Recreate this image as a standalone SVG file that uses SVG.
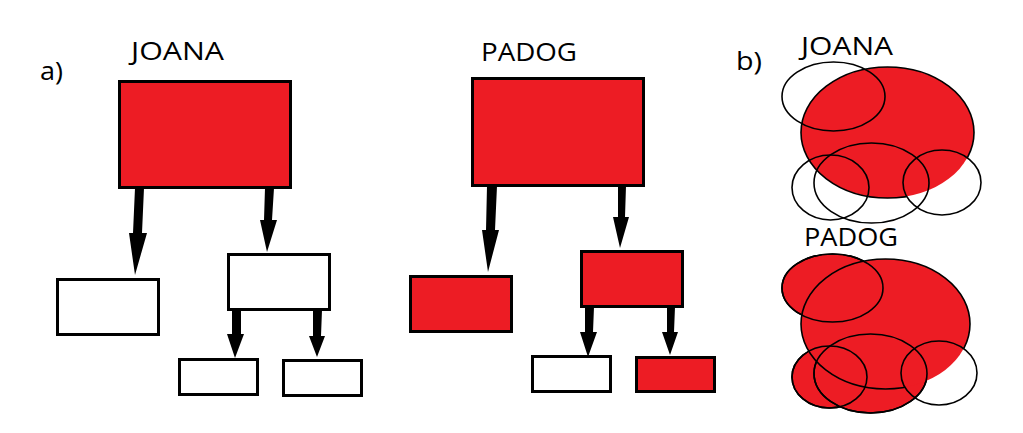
<svg xmlns="http://www.w3.org/2000/svg" width="1023" height="433" viewBox="0 0 1023 433">
<style>
.box{stroke:#000;stroke-width:3}
.red{fill:#ED1C24}
.wht{fill:#fff}
.arr{fill:#000;stroke:none}
.ov{fill:none;stroke:#000;stroke-width:1.6}
.ovr{fill:#ED1C24;stroke:#000;stroke-width:1.6}
.lbl{font-family:"Open Sans","Noto Sans","Liberation Sans",sans-serif;font-size:25.5px;fill:#000}
</style>
<defs>
<mask id="m1"><rect x="0" y="0" width="1023" height="433" fill="#fff"/><ellipse cx="942" cy="182.5" rx="39" ry="32.5" fill="#000"/></mask>
<mask id="m2"><rect x="0" y="0" width="1023" height="433" fill="#fff"/><ellipse cx="939" cy="373" rx="38" ry="32" fill="#000"/></mask>
</defs>
<rect width="1023" height="433" fill="#fff"/>
<g id="labels">
<text class="lbl" x="40" y="80" textLength="23" lengthAdjust="spacingAndGlyphs">a)</text>
<text class="lbl" x="131" y="60" textLength="93" lengthAdjust="spacingAndGlyphs">JOANA</text>
<text class="lbl" x="481" y="61" textLength="96" lengthAdjust="spacingAndGlyphs">PADOG</text>
<text class="lbl" x="736" y="70" textLength="26" lengthAdjust="spacingAndGlyphs">b)</text>
<text class="lbl" x="801" y="55" textLength="92" lengthAdjust="spacingAndGlyphs">JOANA</text>
<text class="lbl" x="804" y="246" textLength="94" lengthAdjust="spacingAndGlyphs">PADOG</text>
</g>
<g id="joana-root"><rect class="box red" x="119.5" y="81.5" width="171" height="106"/></g>
<g id="joana-left"><rect class="box wht" x="57.5" y="279.5" width="101" height="55"/></g>
<g id="joana-right"><rect class="box wht" x="228.5" y="254.5" width="101" height="55"/></g>
<g id="joana-gc1"><rect class="box wht" x="179.5" y="359.5" width="78" height="35"/></g>
<g id="joana-gc2"><rect class="box wht" x="283.5" y="360.5" width="78" height="35"/></g>
<g id="padog-root"><rect class="box red" x="472.5" y="78.5" width="171" height="107"/></g>
<g id="padog-left"><rect class="box red" x="410.5" y="276.5" width="101" height="55"/></g>
<g id="padog-right"><rect class="box red" x="581.5" y="251.5" width="101" height="55"/></g>
<g id="padog-gc1"><rect class="box wht" x="532.5" y="356.5" width="78" height="35"/></g>
<g id="padog-gc2"><rect class="box red" x="636.5" y="357.5" width="78" height="34"/></g>
<g id="connectors">
<polygon class="arr" points="135,188 144,188 142,233 147,233 135,275 129,233 133,233"/>
<polygon class="arr" points="265,188 274,188 272,220 277,220 267,252 260,220 264,220"/>
<polygon class="arr" points="232,309 241,309 241,334 244,334 235,358 227,334 232,334"/>
<polygon class="arr" points="313,310 322,310 321,336 325,336 317,357 309,336 313,336"/>
<polygon class="arr" points="487,186 497,186 495,230 499,230 488,272 482,230 486,230"/>
<polygon class="arr" points="618,186 626,186 625,217 629,217 620,248 613,217 618,217"/>
<polygon class="arr" points="585,307 594,307 593,332 597,332 588,357 580,332 585,332"/>
<polygon class="arr" points="667,307 675,307 674,332 678,332 670,355 662,332 667,332"/>
</g>
<g id="venn-joana">
<ellipse class="red" cx="887.5" cy="132.5" rx="86.5" ry="65.5"/>
<ellipse class="ov" cx="887.5" cy="132.5" rx="86.5" ry="65.5" mask="url(#m1)"/>
<ellipse class="ov" cx="833.5" cy="96.5" rx="51.5" ry="34.5"/>
<ellipse class="ov" cx="830.5" cy="187.5" rx="38.5" ry="32.5"/>
<ellipse class="ov" cx="871.5" cy="183" rx="57.5" ry="40"/>
<ellipse class="ov" cx="942" cy="182.5" rx="39" ry="32.5"/>
</g>
<g id="venn-padog">
<ellipse class="ovr" cx="832.5" cy="288" rx="50.5" ry="34"/>
<ellipse class="ovr" cx="829.5" cy="377" rx="37.5" ry="31"/>
<ellipse class="ovr" cx="870.5" cy="373.5" rx="56.5" ry="39.5"/>
<ellipse class="red" cx="885.5" cy="324" rx="84.5" ry="65"/>
<ellipse class="ov" cx="885.5" cy="324" rx="84.5" ry="65" mask="url(#m2)"/>
<ellipse class="ov" cx="832.5" cy="288" rx="50.5" ry="34"/>
<ellipse class="ov" cx="829.5" cy="377" rx="37.5" ry="31"/>
<ellipse class="ov" cx="870.5" cy="373.5" rx="56.5" ry="39.5"/>
<ellipse class="ov" cx="939" cy="373" rx="38" ry="32"/>
</g>
</svg>
